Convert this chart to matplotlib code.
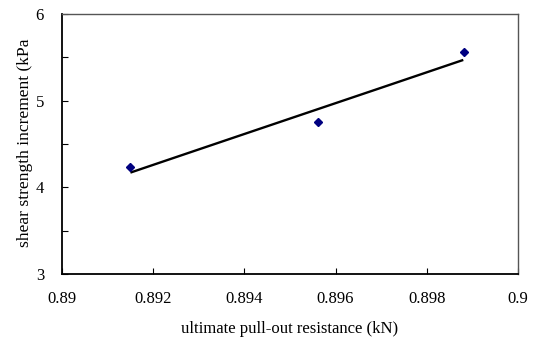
import matplotlib
matplotlib.use("Agg")
import matplotlib.pyplot as plt
from matplotlib.ticker import MultipleLocator

plt.rcParams['font.family'] = ['Liberation Serif', 'DejaVu Serif']

# data
pull_out = [0.8915, 0.89561, 0.89882]
shear_inc = [4.24, 4.75, 5.56]
fit_x = [0.8915, 0.8922, 0.8938, 0.8953, 0.8970, 0.8988]
fit_y = [4.17, 4.295, 4.58, 4.847, 5.149, 5.47]
x_ticks = [0.89, 0.892, 0.894, 0.896, 0.898, 0.9]
x_tick_labels = ['0.89', '0.892', '0.894', '0.896', '0.898', '0.9']
y_ticks = [3, 4, 5, 6]

fig = plt.figure(figsize=(5.34, 3.38), dpi=100)
ax = fig.add_axes([62/534, 1-274/338, (518-62)/534, (274-14)/338])

ax.plot(fit_x, fit_y, color='black', lw=1.7, solid_capstyle='butt')
ax.plot(pull_out, shear_inc, linestyle='none', marker='D', markersize=4.5,
        color='#000080')

ax.set_xlim(0.89, 0.9)
ax.set_ylim(3, 6)
ax.set_xticks(x_ticks)
ax.set_xticklabels(x_tick_labels)
ax.set_yticks(y_ticks)
ax.set_yticklabels([str(v) for v in y_ticks])
ax.yaxis.set_minor_locator(MultipleLocator(0.5))
ax.tick_params(axis='both', which='both', direction='in', labelsize=12,
               length=4, width=0.8, colors='black')
ax.tick_params(axis='x', pad=12)
ax.tick_params(axis='y', pad=13)
ax.tick_params(top=False, right=False, which='both')

for s in ['left', 'bottom']:
    ax.spines[s].set_color('black')
    ax.spines[s].set_linewidth(1.3)
for s in ['top', 'right']:
    ax.spines[s].set_color('#555555')
    ax.spines[s].set_linewidth(1.0)

fig.text(290/534, 1-329/338, 'ultimate pull-out resistance (kN)', ha='center',
         va='center', fontsize=12)
fig.text(25/534, 1-247/338, 'shear strength increment (kPa', rotation=90,
         ha='center', va='bottom', fontsize=12.6)

fig.savefig('out.png', dpi=100)
